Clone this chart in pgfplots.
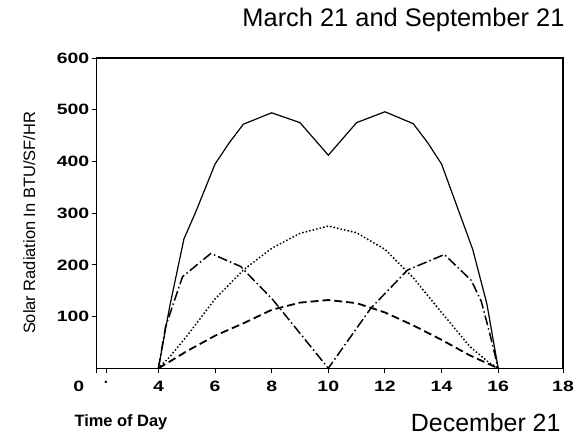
\documentclass[border=0pt]{standalone}
\usepackage{graphicx}
\usepackage{pgfplots}
\pgfplotsset{compat=1.18}
\usepackage{fontspec}
\setmainfont{Liberation Sans}
\newcommand\wide[1]{\scalebox{1.3}[1]{#1}}
\begin{document}
\begin{tikzpicture}[x=1bp,y=1bp]
\path[use as bounding box] (0,0) rectangle (582,442);
\begin{axis}[
  at={(96.7bp,73.7bp)}, anchor=south west, scale only axis,
  width=466.3bp, height=310.3bp,
  xmin=1.82, xmax=18.29, ymin=0, ymax=600,
  axis line style={line width=1.3pt},
  x axis line style={line width=1.6pt},
  tick align=outside, tick style={black, line width=0.9pt},
  major tick length=5bp,
  xtick pos=bottom, ytick pos=left,
  xtick={2.15,4,6,8,10,12,14,16,18.29},
  xticklabels={.,\wide{4},\wide{6},\wide{8},\wide{10},\wide{12},\wide{14},\wide{16},\wide{18}},
  extra x ticks={1.82},
  extra x tick labels={\wide{0}},
  extra x tick style={xticklabel style={xshift=-18bp}},
  ytick={100,200,300,400,500,600},
  yticklabels={\wide{100},\wide{200},\wide{300},\wide{400},\wide{500},\wide{600}},
  ticklabel style={font=\fontsize{15}{15}\selectfont\bfseries},
  xticklabel style={yshift=-4bp},
  yticklabel style={xshift=1bp},
  clip=false,
]
\addplot[black, line width=1.2pt] coordinates {
 (4,0) (4.4,120) (4.9,250) (5.3,300) (6,395) (6.5,436) (7,472) (8,494) (9,475) (10,412)
 (11,475) (12,496) (13,473) (13.5,437) (14,395) (14.7,290) (15.1,230) (15.6,125) (16,0)};
\addplot[black, line width=2.1pt, line cap=round, dash pattern=on 0pt off 3.6pt] coordinates {
 (4,0) (4.4,22) (5,62) (6,134) (7,190) (8,232) (9,261) (10,275) (11,262) (12,230)
 (13,175) (14,108) (15,42) (15.7,10) (16,0)};
\addplot[black, line width=1.8pt, dash pattern=on 8pt off 4pt] coordinates {
 (4,0) (4.4,13) (5,33) (6,63) (7,87) (8,113) (9,127) (10,132) (11,126) (12,108)
 (13,83) (14,55) (15,25) (16,0)};
\addplot[black, line width=1.5pt, dash pattern=on 10pt off 3pt on 1.5pt off 3pt] coordinates {
 (4,0) (4.25,80) (4.85,177) (5.85,222) (6.9,197) (8.05,132) (10,0)
 (11.5,116) (12.8,190) (14.1,220) (15.05,170) (15.4,130) (15.7,68) (16,0)};
\end{axis}
\node[anchor=base east, font=\fontsize{25.5}{25.5}\selectfont] at (568,415) {March 21 and September 21};
\node[anchor=base east, font=\fontsize{25}{25}\selectfont] at (564,10) {December 21};
\node[anchor=base west, font=\fontsize{16.5}{16.5}\selectfont\bfseries] at (71,15) {Time of Day};
\node[anchor=base, rotate=90, font=\fontsize{16.5}{16.5}\selectfont] at (35,219) {Solar Radiation In BTU/SF/HR};
\end{tikzpicture}
\end{document}
